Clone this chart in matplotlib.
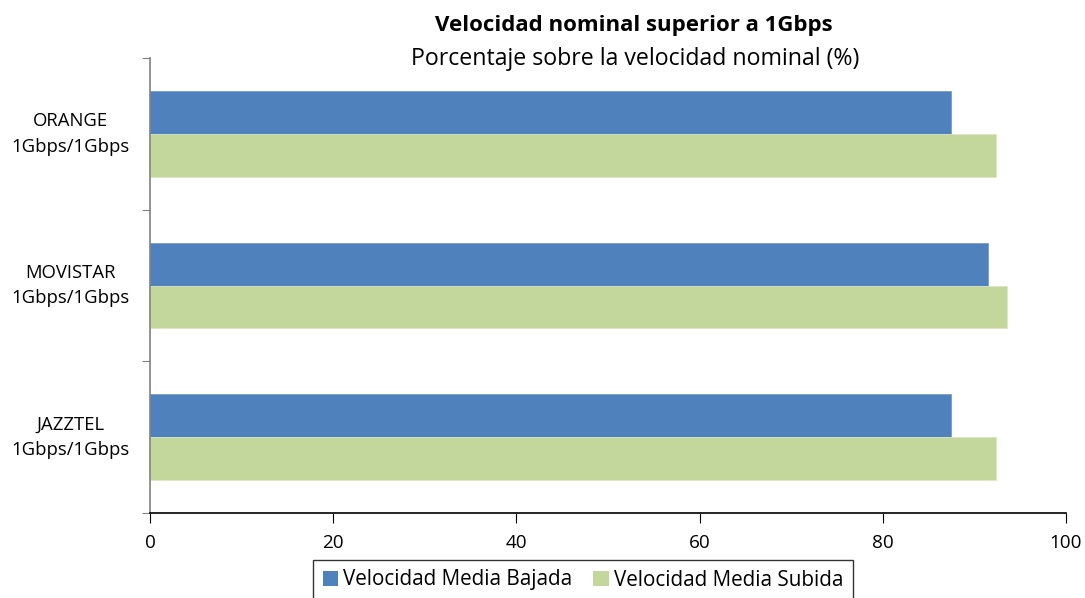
import numpy as np
import matplotlib.pyplot as plt
from matplotlib.patches import Patch

plt.rcParams['font.family'] = ['Open Sans', 'DejaVu Sans']

# data (top to bottom in the chart)
operadores = ['ORANGE\n1Gbps/1Gbps', 'MOVISTAR\n1Gbps/1Gbps', 'JAZZTEL\n1Gbps/1Gbps']
bajada = [87.4, 91.5, 87.4]
subida = [92.4, 93.6, 92.4]
series = ['Velocidad Media Bajada', 'Velocidad Media Subida']
col_bajada = '#4F81BD'
col_subida = '#C3D69B'

fig = plt.figure(figsize=(10.85, 5.98), dpi=100)
ax = fig.add_axes([150/1085, 1-513/598, (1066-150)/1085, (513-58)/598])

n = len(operadores)
y = np.arange(n)[::-1]
h = 0.283
ax.barh(y + h/2, bajada, height=h, color=col_bajada, edgecolor='#7A9CCB', linewidth=0.6)
ax.barh(y - h/2, subida, height=h, color=col_subida, edgecolor='#DCE8C4', linewidth=0.6)

ax.set_xlim(0, 100)
ax.set_ylim(-0.5, n - 0.5)
ax.set_xticks(np.arange(0, 101, 20))
ax.tick_params(axis='x', direction='out', length=7, labelsize=13.6, pad=8)

ax.set_yticks(np.arange(-0.5, n, 1.0))
ax.set_yticklabels([])
ax.tick_params(axis='y', direction='out', length=6, color='#808080')
# category labels centred at about x=70px
for yy, lab in zip(y, operadores):
    ax.text(-(150 - 70) / 9.16, yy, lab, ha='center', va='center', fontsize=13.3,
            multialignment='center', linespacing=1.55)

for s in ['top', 'right']:
    ax.spines[s].set_visible(False)
ax.spines['left'].set_color('#808080')
ax.spines['left'].set_linewidth(1.2)
ax.spines['bottom'].set_color('black')
ax.spines['bottom'].set_linewidth(1.2)

fig.text(634/1085, 1-25/598, 'Velocidad nominal superior a 1Gbps', ha='center', va='center',
         fontsize=16, fontweight='bold')
fig.text(635/1085, 1-59/598, 'Porcentaje sobre la velocidad nominal (%)', ha='center', va='center',
         fontsize=16.7)

handles = [Patch(facecolor=col_bajada, label=series[0]), Patch(facecolor=col_subida, label=series[1])]
leg = fig.legend(handles=handles, loc='center', bbox_to_anchor=(583/1085, 1-580/598), ncol=2,
                 fontsize=14.9, frameon=True, fancybox=False, edgecolor='black',
                 handlelength=0.75, handleheight=0.75, handletextpad=0.25, columnspacing=1.0,
                 borderpad=0.45)
leg.get_frame().set_linewidth(1.0)

fig.savefig('out.png', dpi=100)
